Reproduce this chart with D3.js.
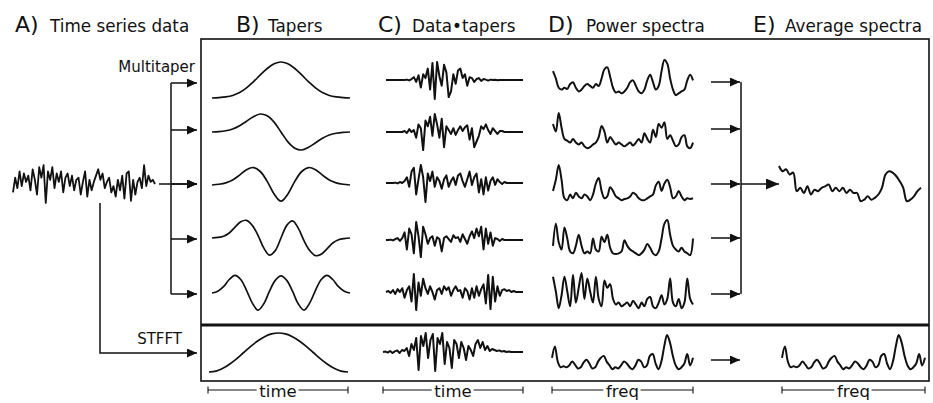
<!DOCTYPE html>
<html>
<head>
<meta charset="utf-8">
<script src="https://cdn.jsdelivr.net/npm/d3@7"></script>
<style>
  body { margin: 0; background: #fff; }
  text { font-family: "DejaVu Sans", sans-serif; fill: #111; }
</style>
</head>
<body>
<svg id="fig" width="933" height="403"></svg>
<script>
'use strict';

var panelLetters = ['A)', 'B)', 'C)', 'D)', 'E)'];
var panelTitles = ['Time series data', 'Tapers', 'Data\u2022tapers', 'Power spectra', 'Average spectra'];
var axisLabels = ['time', 'time', 'freq', 'freq'];

// A) raw time series
var timeSeries = [-0.4,0.3,-0.2,0.6,-0.1,0.5,0.1,0.4,-0.3,0.7,0.2,-0.5,0.8,0.3,0.9,-0.9,0.6,0.2,0.8,-0.2,0.5,0.1,0.6,-0.4,0.3,0.5,-0.1,0.4,-0.3,0.2,0.3,-0.5,0.1,0.6,-0.6,0.2,-0.3,0.1,0.4,0.7,0.2,0.5,-0.2,0.1,0.3,-0.4,-0.1,-0.6,0.2,-0.3,0.4,-0.7,0.5,0.6,-0.8,0.2,-0.5,0.1,0.3,-0.2,0.9,-0.1,0.4,0.1,0.2,0.0];

// B) tapers (first one is 0..1, the others -1..1)
var taper1 = [0.00,0.01,0.03,0.07,0.15,0.28,0.45,0.64,0.82,0.95,1.00,0.95,0.82,0.64,0.45,0.28,0.15,0.07,0.03,0.01,0.00];
var taper2 = [0,0.02,0.07,0.17,0.35,0.6,0.85,1.0,0.9,0.55,0,-0.55,-0.9,-1.0,-0.85,-0.6,-0.35,-0.17,-0.07,-0.02,0];
var taper3 = [0,0.04,0.12,0.28,0.55,0.85,0.97,0.75,0.2,-0.5,-0.9,-0.5,0.2,0.75,0.97,0.85,0.55,0.28,0.12,0.04,0];
var taper4 = [0,0.03,0.1,0.28,0.6,0.9,0.98,0.7,0.15,-0.55,-0.95,-0.7,0,0.7,0.95,0.55,-0.15,-0.7,-0.98,-0.9,-0.6,-0.28,-0.1,-0.03,0];
var taper5 = [0,0.1,0.35,0.75,0.98,0.75,0.15,-0.55,-0.95,-0.6,0.1,0.7,0.95,0.7,0.1,-0.6,-0.95,-0.55,0.15,0.75,0.98,0.75,0.35,0.1,0];
var stfftTaper = [0,0.024,0.095,0.206,0.345,0.5,0.655,0.794,0.905,0.976,1,0.976,0.905,0.794,0.655,0.5,0.345,0.206,0.095,0.024,0];

// C) data x tapers
var tapered1 = [0,0,0,0,0,0,0,0,0,0.02,-0.02,0.05,0.15,-0.1,0.25,-0.4,0.3,0.1,0.6,-0.5,0.9,-1.0,0.95,0.2,-0.3,0.8,0.4,-0.9,-0.6,0.3,-0.2,0.5,0.6,0.1,0.3,-0.3,0.15,0.1,-0.1,0.05,0.1,-0.05,0.05,0.02,-0.03,0.02,0,0.01,-0.01,0,0,0,0,0,0,0,0,0,0,0];
var tapered2 = [0,0,0,0,0,0,0,0,0.05,-0.05,0.15,0,0.1,-0.3,0.4,0.2,-0.95,0.6,0.3,0.8,-0.2,0.95,0.4,-0.3,0.7,-0.8,0.3,0.1,-0.1,0.2,-0.15,0.1,0.3,0.05,0.25,0.35,-0.4,0.2,-0.8,-0.5,-0.2,0.3,0.15,0.4,0.1,-0.1,0.2,0.05,-0.1,0.05,0.05,0,0,0,0,0,0,0,0,0];
var tapered3 = [0,0,0,0,0.02,-0.02,0.05,0,0.1,0.3,-0.2,0.6,0.8,-0.6,0.2,0.95,0.3,-1.0,0.5,0.1,0.6,-0.2,0.3,0.1,-0.3,0.2,0.4,-0.2,0.1,0.3,-0.1,0.4,0.5,0.1,-0.2,0.2,0.6,-0.1,0.3,0.5,-0.5,0.2,-0.6,0.3,-0.4,0.1,0.3,-0.1,0.2,0.05,-0.05,0.05,0,0,0,0,0,0,0,0];
var tapered4 = [0,0,0.02,-0.02,0.05,0.1,-0.05,0.1,0.4,-0.5,0.6,0.3,-0.7,0.95,0.2,-0.9,0.7,0.3,-0.2,0.1,0.2,-0.3,0.15,0.05,-0.6,0.1,0.2,0.05,-0.1,0.25,0.1,0.15,-0.1,0.3,0.05,-0.2,0.2,0.45,0.1,0.6,0.2,0.7,-0.5,0.6,-0.2,0.4,-0.3,0.1,0.05,-0.05,0.05,0,0,0,0,0,0,0,0,0];
var tapered5 = [0,0.05,-0.05,0.1,-0.1,0.15,0,0.2,-0.3,0.1,0.3,-0.5,0.95,-0.95,0.5,-0.2,0.7,0.2,-0.1,0.3,0,-0.4,0.1,0.2,-0.1,0.3,0.1,0.25,-0.2,0.1,0.3,0.05,0.1,-0.3,0.2,0.05,-0.4,0.2,-0.3,0.3,-0.2,0.15,0.4,-0.6,0.9,-0.9,0.8,-0.5,0.3,-0.2,0.1,0.15,0.05,0.1,0,0.05,0,0,0,0];
var stfftTapered = [0,0.02,-0.03,0.05,-0.05,0.03,0.08,-0.05,0.1,0.05,0.2,-0.2,0.4,0.1,0.7,-0.9,0.8,0.3,0.95,-0.3,0.6,0.9,-0.95,0.7,0.4,0.95,-0.6,0.5,0.2,-0.8,0.6,0.4,-0.3,0.5,0.2,-0.4,0.3,0.1,-0.2,0.4,0.6,0.2,0.5,0.1,0.3,0.05,0.15,0.1,0.05,0.08,0.02,0.05,0,0.02,0,0,0,0,0,0];

// D) power spectra (0..1)
var spectrum1 = [0.7,0.5,0.25,0.2,0.25,0.22,0.35,0.4,0.25,0.15,0.2,0.3,0.35,0.3,0.25,0.35,0.3,0.5,0.75,0.8,0.55,0.25,0.12,0.15,0.1,0.15,0.25,0.4,0.45,0.3,0.15,0.1,0.2,0.45,0.6,0.4,0.2,0.3,0.7,1.0,0.9,0.5,0.2,0.05,0.1,0.15,0.2,0.45,0.6,0.45];
var spectrum2 = [0.7,0.5,1.0,0.6,0.3,0.25,0.2,0.3,0.2,0.15,0.2,0.1,0.05,0.08,0.15,0.2,0.35,0.65,0.5,0.2,0.35,0.25,0.15,0.2,0.15,0.1,0.15,0.2,0.12,0.2,0.3,0.2,0.45,0.3,0.2,0.55,0.35,0.7,0.6,0.75,0.3,0.4,0.25,0.1,0.15,0.35,0.4,0.1,0.05,0.2];
var spectrum3 = [0.3,0.6,1.0,0.6,0.1,0.05,0.2,0.1,0.25,0.15,0.1,0.2,0.15,0.05,0.2,0.5,0.65,0.3,0.1,0.15,0.4,0.3,0.15,0.1,0.05,0.08,0.1,0.15,0.25,0.2,0.1,0.05,0.05,0.1,0.15,0.2,0.45,0.55,0.3,0.5,0.6,0.4,0.1,0.15,0.3,0.15,0.05,0.1,0.08,0.1];
var spectrum4 = [0.3,0.9,0.4,0.2,0.8,0.5,0.15,0.1,0.3,0.6,0.3,0.1,0.15,0.1,0.5,0.2,0.15,0.55,0.4,0.6,0.25,0.1,0.08,0.1,0.15,0.45,0.3,0.2,0.15,0.1,0.05,0.1,0.2,0.35,0.25,0.1,0.05,0.15,0.5,0.9,1.0,0.6,0.3,0.2,0.15,0.25,0.15,0.1,0.05,0.5];
var spectrum5 = [0.9,0.5,0.05,0.4,0.9,0.5,0.1,0.95,0.2,0.6,1.0,0.3,0.85,0.5,0.2,0.9,0.3,0.1,0.8,0.6,0.7,0.3,0.15,0.2,0.1,0.15,0.2,0.1,0.25,0.15,0.05,0.2,0.1,0.3,0.35,0.1,0.05,0.2,0.4,0.15,0.3,0.85,0.2,0.1,0.3,0.05,0.2,0.85,0.3,0.15];
var stfftSpectrum = [0.4,0.7,0.3,0.15,0.18,0.15,0.2,0.3,0.22,0.12,0.15,0.28,0.35,0.25,0.12,0.15,0.3,0.4,0.45,0.3,0.2,0.1,0.15,0.12,0.2,0.3,0.25,0.15,0.1,0.2,0.35,0.3,0.15,0.2,0.45,0.5,0.25,0.1,0.3,0.7,1.0,0.8,0.45,0.2,0.1,0.15,0.25,0.5,0.2,0.4];

// E) average of the multitaper spectra
var avgSpectrum = [1.0,0.86,0.91,0.77,0.82,0.32,0.41,0.27,0.45,0.23,0.36,0.32,0.41,0.45,0.5,0.32,0.41,0.32,0.41,0.27,0.36,0.27,0.27,0.05,0.09,0.18,0.09,0.14,0.23,0.41,0.77,0.86,0.82,0.73,0.59,0.41,0.05,0.09,0.18,0.32,0.41];

var tapers = [taper1, taper2, taper3, taper4, taper5];
var tapered = [tapered1, tapered2, tapered3, tapered4, tapered5];
var spectra = [spectrum1, spectrum2, spectrum3, spectrum4, spectrum5];

// ---- layout ----
var W = 933, H = 403;
var ink = '#111';
var rowArrowY = [83, 130, 184, 239, 294];
var taperBase = [98, 132, 185, 238, 293];
var taperedMid = [80, 132, 183, 240, 292];
var spectrumBottom = [97, 150, 202, 257, 310];
var rightArrowY = [82, 129, 184, 238, 294];

var svg = d3.select('#fig');
svg.append('rect').attr('width', W).attr('height', H).attr('fill', '#fff');

var defs = svg.append('defs');
[['arrow', 10, 4.5], ['bigArrow', 13, 5.5]].forEach(function(m) {
  defs.append('marker')
    .attr('id', m[0])
    .attr('markerUnits', 'userSpaceOnUse')
    .attr('markerWidth', m[1]).attr('markerHeight', m[2] * 2)
    .attr('refX', m[1]).attr('refY', m[2])
    .attr('orient', 'auto')
    .append('path')
      .attr('d', 'M0,0L' + m[1] + ',' + m[2] + 'L0,' + (m[2] * 2) + 'Z')
      .attr('fill', ink);
});

function trace(values, xr, yDomain, yr, curve, width) {
  var x = d3.scaleLinear().domain([0, values.length - 1]).range(xr);
  var y = d3.scaleLinear().domain(yDomain).range(yr);
  var line = d3.line()
    .x(function(d, i) { return x(i); })
    .y(function(d) { return y(d); })
    .curve(curve || d3.curveLinear);
  svg.append('path')
    .attr('d', line(values))
    .attr('fill', 'none')
    .attr('stroke', ink)
    .attr('stroke-width', width || 1.9)
    .attr('stroke-linejoin', 'round');
}

function seg(points, w, marker) {
  var p = svg.append('path')
    .attr('d', d3.line()(points))
    .attr('fill', 'none')
    .attr('stroke', ink)
    .attr('stroke-width', w || 1.5);
  if (marker) p.attr('marker-end', 'url(#' + marker + ')');
  return p;
}

var smooth = d3.curveCatmullRom.alpha(0.5);

// ---- titles ----
var letterX = [15, 236, 378, 548, 753];
var titleX = [50, 268, 412, 586, 785];
panelLetters.forEach(function(l, i) {
  svg.append('text').attr('x', letterX[i]).attr('y', 32).attr('font-size', 22).text(l);
  svg.append('text').attr('x', titleX[i]).attr('y', 32).attr('font-size', 16.8).text(panelTitles[i]);
});
svg.append('text').attr('x', 195).attr('y', 72).attr('font-size', 15).attr('text-anchor', 'end').text('Multitaper');
svg.append('text').attr('x', 182).attr('y', 344).attr('font-size', 15).attr('text-anchor', 'end').text('STFFT');

// ---- frame ----
svg.append('rect').attr('x', 201).attr('y', 39).attr('width', 728).attr('height', 342)
  .attr('fill', 'none').attr('stroke', ink).attr('stroke-width', 1.6);
seg([[201, 325], [929, 325]], 3);

// ---- A) ----
trace(timeSeries, [13, 155], [-1, 1], [205, 163], null, 1.8);
seg([[159, 184], [197, 184]], 1.5, 'arrow');
seg([[171, rowArrowY[0]], [171, rowArrowY[4]]], 1.5);
rowArrowY.forEach(function(y) { seg([[171, y], [197, y]], 1.5, 'arrow'); });
seg([[100, 203], [100, 353], [197, 353]], 1.5, 'arrow');

// ---- B) tapers ----
tapers.forEach(function(t, i) {
  if (i === 0) trace(t, [212, 350], [0, 1], [98, 62], d3.curveCatmullRom, 1.7);
  else trace(t, [212, 350], [-1, 1], [taperBase[i] + 18, taperBase[i] - 18], d3.curveCatmullRom, 1.7);
});
trace(stfftTaper, [209, 348], [0, 1], [372, 333], d3.curveCatmullRom, 1.7);

// ---- C) data x tapers ----
tapered.forEach(function(t, i) {
  trace(t, [386, 523], [-1, 1], [taperedMid[i] + 19, taperedMid[i] - 19], null, 2);
});
trace(stfftTapered, [383, 523], [-1, 1], [372, 332], null, 2);

// ---- D) spectra ----
spectra.forEach(function(s, i) {
  trace(s, [553, 693], [0, 1], [spectrumBottom[i], spectrumBottom[i] - 37], smooth, 2);
});
trace(stfftSpectrum, [552, 693], [0, 1], [373, 335], smooth, 2);

rightArrowY.forEach(function(y) { seg([[711, y], [740, y]], 1.5, 'arrow'); });
seg([[741, rightArrowY[0]], [741, rightArrowY[4]]], 1.5);
seg([[741, 184], [779, 184]], 1.7, 'bigArrow');
seg([[711, 360], [740, 360]], 1.5, 'arrow');

// ---- E) ----
trace(avgSpectrum, [779, 921], [0, 1], [203, 166], smooth, 2);
trace(stfftSpectrum, [782, 925], [0, 1], [373, 335], smooth, 2);

// ---- bracket axes ----
var brackets = [[208, 348], [383, 523], [552, 693], [782, 925]];
brackets.forEach(function(b, i) {
  var x = d3.scaleLinear().domain([0, 1]).range(b);
  seg([[x(0), 390], [x(1), 390]], 1.1);
  seg([[x(0), 386.5], [x(0), 393.5]], 1.1);
  seg([[x(1), 386.5], [x(1), 393.5]], 1.1);
  svg.append('text')
    .attr('x', x(0.5)).attr('y', 397)
    .attr('font-size', 16.5)
    .attr('text-anchor', 'middle')
    .attr('stroke', '#fff').attr('stroke-width', 6)
    .attr('paint-order', 'stroke')
    .text(axisLabels[i]);
});
</script>
</body>
</html>
